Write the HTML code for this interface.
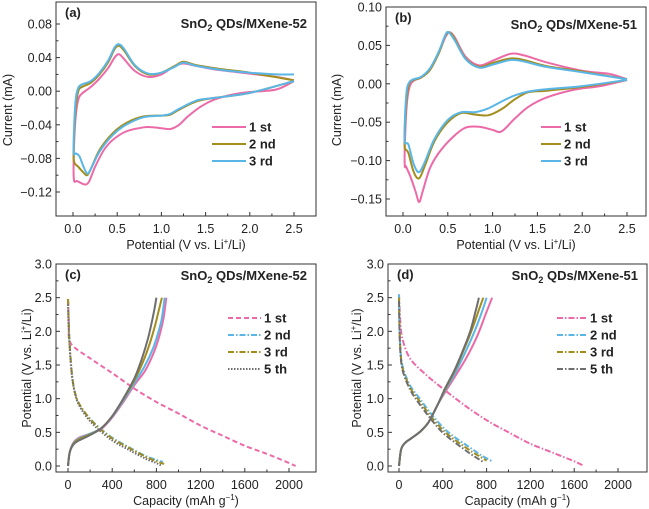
<!DOCTYPE html>
<html><head><meta charset="utf-8">
<style>
html,body{margin:0;padding:0;background:#fff;}
svg{display:block;font-family:"Liberation Sans",Arial,sans-serif;}
.tk{font-size:12.5px;fill:#222;}
.ti{font-size:12.5px;fill:#222;}
.lg{font-size:13px;font-weight:bold;fill:#222;}
</style></head>
<body>
<svg id="fig" width="649" height="509" viewBox="0 0 649 509" xmlns="http://www.w3.org/2000/svg"></svg>
<script>
// ---------- data ----------
const cvA_1st = [[2.5,0.012],[2.3,0.002],[2.0,-0.001],[1.8,-0.004],[1.6,-0.01],[1.45,-0.018],[1.3,-0.03],[1.2,-0.04],[1.1,-0.045],[1.0,-0.044],[0.9,-0.043],[0.8,-0.043],[0.6,-0.048],[0.45,-0.058],[0.35,-0.07],[0.25,-0.09],[0.18,-0.108],[0.13,-0.111],[0.05,-0.107],[0.01,-0.105],[0.01,-0.07],[0.03,-0.03],[0.06,-0.01],[0.1,-0.003],[0.2,0.005],[0.3,0.015],[0.4,0.028],[0.47,0.04],[0.52,0.044],[0.58,0.038],[0.7,0.024],[0.85,0.017],[1.0,0.02],[1.15,0.03],[1.25,0.033],[1.4,0.03],[1.6,0.026],[2.0,0.021],[2.3,0.017],[2.5,0.013]];
const cvA_2nd = [[2.5,0.012],[2.0,-0.002],[1.6,-0.008],[1.4,-0.012],[1.2,-0.022],[1.1,-0.028],[1.0,-0.029],[0.8,-0.03],[0.6,-0.038],[0.45,-0.05],[0.3,-0.07],[0.2,-0.093],[0.16,-0.1],[0.12,-0.097],[0.06,-0.09],[0.01,-0.083],[0.01,-0.06],[0.03,-0.02],[0.06,0.0],[0.1,0.005],[0.2,0.01],[0.3,0.02],[0.4,0.035],[0.47,0.05],[0.52,0.054],[0.58,0.048],[0.7,0.03],[0.85,0.02],[1.0,0.022],[1.15,0.03],[1.25,0.035],[1.4,0.031],[1.7,0.026],[2.0,0.022],[2.5,0.013]];
const cvA_3rd = [[2.5,0.012],[2.0,-0.002],[1.6,-0.008],[1.4,-0.011],[1.2,-0.021],[1.1,-0.027],[1.0,-0.029],[0.8,-0.031],[0.6,-0.04],[0.45,-0.052],[0.3,-0.072],[0.2,-0.093],[0.16,-0.098],[0.12,-0.09],[0.07,-0.077],[0.03,-0.074],[0.01,-0.074],[0.01,-0.05],[0.03,-0.01],[0.06,0.004],[0.1,0.008],[0.2,0.012],[0.3,0.022],[0.4,0.037],[0.47,0.052],[0.52,0.056],[0.58,0.05],[0.7,0.031],[0.85,0.021],[1.0,0.022],[1.15,0.029],[1.25,0.034],[1.4,0.03],[1.7,0.025],[2.0,0.022],[2.3,0.02],[2.5,0.02]];
const cvB_1st = [[2.5,0.005],[2.2,-0.003],[1.9,-0.008],[1.6,-0.018],[1.4,-0.03],[1.25,-0.045],[1.1,-0.062],[1.0,-0.06],[0.85,-0.056],[0.7,-0.057],[0.55,-0.07],[0.4,-0.09],[0.3,-0.11],[0.22,-0.14],[0.18,-0.154],[0.14,-0.14],[0.08,-0.12],[0.03,-0.107],[0.02,-0.107],[0.02,-0.08],[0.04,-0.03],[0.07,-0.005],[0.12,0.004],[0.2,0.008],[0.3,0.018],[0.4,0.04],[0.47,0.06],[0.52,0.067],[0.58,0.06],[0.7,0.035],[0.85,0.024],[1.0,0.03],[1.2,0.039],[1.35,0.037],[1.6,0.028],[2.0,0.017],[2.3,0.013],[2.5,0.006]];
const cvB_2nd = [[2.5,0.005],[2.0,-0.004],[1.6,-0.009],[1.4,-0.011],[1.25,-0.02],[1.1,-0.033],[0.95,-0.041],[0.8,-0.04],[0.65,-0.038],[0.5,-0.05],[0.35,-0.075],[0.25,-0.105],[0.18,-0.123],[0.12,-0.115],[0.06,-0.09],[0.02,-0.083],[0.02,-0.06],[0.04,-0.02],[0.07,0.0],[0.12,0.005],[0.2,0.008],[0.3,0.018],[0.4,0.04],[0.47,0.062],[0.52,0.067],[0.58,0.058],[0.7,0.033],[0.85,0.022],[1.0,0.027],[1.2,0.033],[1.35,0.031],[1.6,0.023],[2.0,0.016],[2.5,0.006]];
const cvB_3rd = [[2.5,0.005],[2.0,-0.003],[1.6,-0.007],[1.4,-0.01],[1.25,-0.015],[1.1,-0.023],[0.95,-0.032],[0.8,-0.037],[0.65,-0.037],[0.5,-0.047],[0.35,-0.072],[0.25,-0.1],[0.18,-0.115],[0.12,-0.105],[0.06,-0.079],[0.02,-0.076],[0.02,-0.05],[0.04,-0.01],[0.07,0.002],[0.12,0.006],[0.2,0.009],[0.3,0.02],[0.4,0.042],[0.47,0.063],[0.51,0.067],[0.58,0.056],[0.7,0.032],[0.85,0.021],[1.0,0.025],[1.2,0.031],[1.35,0.029],[1.6,0.022],[2.0,0.015],[2.5,0.006]];

const gcC_dis1 = [[2,2.45],[8,2.1],[25,1.82],[200,1.6],[400,1.38],[600,1.15],[800,0.95],[1000,0.78],[1200,0.6],[1400,0.45],[1600,0.3],[1800,0.18],[1950,0.08],[2060,0.0]];
const gcC_dis2 = [[0,2.48],[5,2.2],[15,1.8],[40,1.3],[80,1.0],[150,0.8],[250,0.62],[400,0.42],[550,0.28],[700,0.15],[800,0.09],[860,0.06]];
const gcC_dis3 = [[0,2.48],[5,2.2],[15,1.8],[40,1.3],[80,1.0],[150,0.8],[250,0.61],[400,0.41],[550,0.27],[700,0.14],[800,0.07],[870,0.03]];
const gcC_dis5 = [[0,2.4],[5,2.1],[15,1.75],[40,1.28],[80,0.98],[150,0.77],[250,0.58],[400,0.38],[550,0.24],[700,0.11],[790,0.05],[840,0.01]];
const gcC_ch1 = [[0,0],[15,0.2],[50,0.35],[100,0.42],[200,0.48],[300,0.55],[400,0.72],[500,0.95],[600,1.2],[700,1.42],[780,1.7],[830,1.95],[865,2.2],[890,2.5]];
const gcC_ch2 = [[0,0],[15,0.2],[50,0.34],[100,0.41],[200,0.48],[300,0.56],[400,0.73],[500,0.97],[600,1.23],[690,1.47],[770,1.75],[820,2.0],[850,2.2],[875,2.5]];
const gcC_ch3 = [[0,0],[15,0.2],[50,0.33],[100,0.4],[200,0.47],[300,0.56],[400,0.74],[500,0.99],[600,1.27],[680,1.55],[740,1.82],[790,2.1],[820,2.3],[850,2.5]];
const gcC_ch5 = [[0,0],[15,0.2],[50,0.32],[100,0.38],[200,0.46],[300,0.56],[400,0.74],[500,1.0],[600,1.3],[670,1.6],[725,1.9],[760,2.15],[785,2.35],[800,2.5]];

const gcD_dis1 = [[0,2.55],[10,2.2],[30,1.9],[100,1.6],[250,1.35],[400,1.15],[600,0.9],[800,0.68],[1000,0.5],[1200,0.33],[1400,0.2],[1600,0.07],[1690,0.0]];
const gcD_dis2 = [[0,2.55],[8,1.9],[30,1.5],[100,1.2],[190,1.0],[300,0.76],[450,0.5],[670,0.25],[760,0.15],[850,0.07]];
const gcD_dis3 = [[0,2.5],[8,1.87],[30,1.47],[100,1.17],[180,0.98],[290,0.74],[430,0.49],[640,0.24],[730,0.15],[800,0.08]];
const gcD_dis5 = [[0,2.45],[8,1.84],[30,1.44],[100,1.14],[170,0.96],[280,0.72],[410,0.48],[610,0.23],[700,0.13],[770,0.06]];
const gcD_ch1 = [[0,0],[20,0.25],[60,0.35],[120,0.42],[200,0.52],[270,0.65],[350,0.9],[430,1.12],[520,1.35],[620,1.62],[720,1.95],[790,2.25],[850,2.5]];
const gcD_ch2 = [[0,0],[20,0.25],[60,0.35],[120,0.42],[200,0.52],[270,0.65],[350,0.9],[425,1.13],[510,1.37],[600,1.67],[690,2.0],[760,2.3],[800,2.5]];
const gcD_ch3 = [[0,0],[20,0.25],[60,0.35],[120,0.42],[200,0.52],[270,0.65],[350,0.9],[422,1.14],[505,1.4],[585,1.7],[665,2.02],[730,2.32],[770,2.5]];
const gcD_ch5 = [[0,0],[20,0.25],[60,0.35],[120,0.42],[200,0.52],[270,0.65],[350,0.9],[420,1.15],[500,1.4],[580,1.7],[650,2.0],[700,2.3],[730,2.5]];

const xTicksCV = [0,0.5,1.0,1.5,2.0,2.5];
const yTicksA = [0.08,0.04,0.00,-0.04,-0.08,-0.12];
const yTicksB = [0.10,0.05,0.00,-0.05,-0.10,-0.15];
const xTicksGC = [0,400,800,1200,1600,2000];
const yTicksGC = [0,0.5,1.0,1.5,2.0,2.5,3.0];
const legendCV = ["1 st","2 nd","3 rd"];
const legendGC = ["1 st","2 nd","3 rd","5 th"];

// ---------- drawing ----------
const NS = "http://www.w3.org/2000/svg";
const svg = document.getElementById('fig');
const PINK="#ec6aa8", OLIVE="#a38d1d", BLUE="#5ab6e6", GRAY="#6e6e6e";
function mk(tag, attrs, parent){ const e=document.createElementNS(NS,tag); for(const k in attrs) e.setAttribute(k,attrs[k]); (parent||svg).appendChild(e); return e; }
function fmt(v,d){ const s=Math.abs(v).toFixed(d); return (v<0?"\u2212":"")+s; }
function smooth(pts){
  let d="M"+pts[0][0].toFixed(1)+","+pts[0][1].toFixed(1);
  for(let i=0;i<pts.length-1;i++){
    const p0=pts[Math.max(0,i-1)],p1=pts[i],p2=pts[i+1],p3=pts[Math.min(pts.length-1,i+2)];
    const t=0.16;
    const c1=[p1[0]+(p2[0]-p0[0])*t,p1[1]+(p2[1]-p0[1])*t];
    const c2=[p2[0]-(p3[0]-p1[0])*t,p2[1]-(p3[1]-p1[1])*t];
    d+=" C"+c1[0].toFixed(1)+","+c1[1].toFixed(1)+" "+c2[0].toFixed(1)+","+c2[1].toFixed(1)+" "+p2[0].toFixed(1)+","+p2[1].toFixed(1);
  }
  return d;
}
function panel(cfg){
  const g=mk('g',{});
  
  
  const sx=v=>cfg.x0px+(v-cfg.xv0)*(cfg.x1px-cfg.x0px)/(cfg.xv1-cfg.xv0);
  const sy=v=>cfg.y0px+(v-cfg.yv0)*(cfg.y1px-cfg.y0px)/(cfg.yv1-cfg.yv0);
  const clipId='clip-'+cfg.name;
  const cp=mk('clipPath',{id:clipId},g); mk('rect',{x:cfg.L,y:cfg.T,width:cfg.R-cfg.L,height:cfg.B-cfg.T},cp);
  const sg=mk('g',{'clip-path':'url(#'+clipId+')'},g);
  cfg.series.forEach(s=>{
    const p=mk('path',{d:smooth(s.data.map(q=>[sx(q[0]),sy(q[1])])),fill:'none',stroke:s.color,'stroke-width':2,'stroke-linejoin':'round','stroke-dasharray':s.dash||'none'},sg);
    
    
  });
  const fr=mk('rect',{x:cfg.L,y:cfg.T,width:cfg.R-cfg.L,height:cfg.B-cfg.T,fill:'none',stroke:'#333','stroke-width':1},g);
  
  
  const xt=cfg.xticks;
  xt.forEach((v,i)=>{
    const X=sx(v);
    mk('line',{x1:X,x2:X,y1:cfg.B,y2:cfg.B-4,stroke:'#333'},g);
    if(i<xt.length-1){ const Xm=sx((v+xt[i+1])/2); mk('line',{x1:Xm,x2:Xm,y1:cfg.B,y2:cfg.B-2.5,stroke:'#333'},g); }
    const t=mk('text',{x:X,y:cfg.B+17,'text-anchor':'middle',class:'tk'},g); t.textContent=cfg.xfmt(v);
    
    
  });
  const yt=cfg.yticks;
  yt.forEach((v,i)=>{
    const Y=sy(v);
    mk('line',{x1:cfg.L,x2:cfg.L+4,y1:Y,y2:Y,stroke:'#333'},g);
    if(i<yt.length-1){ const Ym=sy((v+yt[i+1])/2); mk('line',{x1:cfg.L,x2:cfg.L+2.5,y1:Ym,y2:Ym,stroke:'#333'},g); }
    const t=mk('text',{x:cfg.L-4,y:Y+4.5,'text-anchor':'end',class:'tk'},g); t.textContent=cfg.yfmt(v);
    
    
  });
  const xa=mk('text',{x:(cfg.L+cfg.R)/2,y:cfg.B+33,'text-anchor':'middle',class:'ti'},g); xa.innerHTML=cfg.xtitle;
  
  
  const ya=mk('text',{x:0,y:0,'text-anchor':'middle',class:'ti',transform:'translate('+cfg.ytx+','+cfg.yty+') rotate(-90)'},g); ya.innerHTML=cfg.ytitle;
  
  
  const pl=mk('text',{x:cfg.L+9,y:cfg.T+15,class:'lg'},g); pl.textContent=cfg.tag;
  
  
  const pt=mk('text',{x:cfg.R-9,y:cfg.T+cfg.titleDy,'text-anchor':'end',class:'lg'},g);
  pt.innerHTML='SnO<tspan font-size="9" dy="3">2</tspan><tspan dy="-3"> QDs/MXene-'+cfg.num+'</tspan>';
  
  
  cfg.legend.forEach((lab,i)=>{
    const s=cfg.series[cfg.legendIdx[i]];
    const Y=cfg.lgY+i*cfg.lgStep;
    const ln=mk('line',{x1:cfg.lgX,x2:cfg.lgX+cfg.lgW,y1:Y,y2:Y,stroke:s.color,'stroke-width':2,'stroke-dasharray':s.dash||'none'},g);
    
    
    const t=mk('text',{x:cfg.lgX+cfg.lgW+3,y:Y+4.5,class:'lg'},g); t.textContent=lab;
    
    
  });
}
const potT='Potential (V vs. Li<tspan font-size="8" dy="-5">+</tspan><tspan dy="5">/Li)</tspan>';
const capT='Capacity (mAh g<tspan font-size="8" dy="-5">\u22121</tspan><tspan dy="5">)</tspan>';
panel({name:'panel-a',tag:'(a)',num:'52',L:56,R:316,T:2,B:216,x0px:73,x1px:294,xv0:0,xv1:2.5,y0px:24,y1px:192,yv0:0.08,yv1:-0.12,
  xticks:xTicksCV,yticks:yTicksA,xfmt:v=>v.toFixed(1),yfmt:v=>fmt(v,2),xtitle:potT,ytitle:'Current (mA)',ytx:12,yty:110,titleDy:26,
  series:[{nm:'cv-1st',data:cvA_1st,color:PINK},{nm:'cv-2nd',data:cvA_2nd,color:OLIVE},{nm:'cv-3rd',data:cvA_3rd,color:BLUE}],
  legend:legendCV,legendIdx:[0,1,2],lgX:212,lgW:34,lgY:127,lgStep:17});
panel({name:'panel-b',tag:'(b)',num:'51',L:386,R:646,T:7,B:216,x0px:403,x1px:627,xv0:0,xv1:2.5,y0px:7,y1px:199,yv0:0.10,yv1:-0.15,
  xticks:xTicksCV,yticks:yTicksB,xfmt:v=>v.toFixed(1),yfmt:v=>fmt(v,2),xtitle:potT,ytitle:'Current (mA)',ytx:341,yty:110,titleDy:22,
  series:[{nm:'cv-1st',data:cvB_1st,color:PINK},{nm:'cv-2nd',data:cvB_2nd,color:OLIVE},{nm:'cv-3rd',data:cvB_3rd,color:BLUE}],
  legend:legendCV,legendIdx:[0,1,2],lgX:541,lgW:20,lgY:127,lgStep:17});
panel({name:'panel-c',tag:'(c)',num:'52',L:56,R:316,T:264,B:472,x0px:68,x1px:289,xv0:0,xv1:2000,y0px:466,y1px:264,yv0:0,yv1:3,
  xticks:xTicksGC,yticks:yTicksGC,xfmt:v=>String(v),yfmt:v=>v.toFixed(1),xtitle:capT,ytitle:potT,ytx:31,yty:368,titleDy:16,
  series:[{nm:'discharge-1st',data:gcC_dis1,color:PINK,dash:'5,3'},{nm:'discharge-2nd',data:gcC_dis2,color:BLUE,dash:'6,2,1.5,2'},{nm:'discharge-3rd',data:gcC_dis3,color:OLIVE,dash:'6,2,1.5,2'},{nm:'discharge-5th',data:gcC_dis5,color:GRAY,dash:'1.5,1.5'},
    {nm:'charge-1st',data:gcC_ch1,color:PINK},{nm:'charge-2nd',data:gcC_ch2,color:BLUE},{nm:'charge-3rd',data:gcC_ch3,color:OLIVE},{nm:'charge-5th',data:gcC_ch5,color:GRAY}],
  legend:legendGC,legendIdx:[0,1,2,3],lgX:228,lgW:33,lgY:318,lgStep:17});
panel({name:'panel-d',tag:'(d)',num:'51',L:388,R:647,T:264,B:472,x0px:399,x1px:618,xv0:0,xv1:2000,y0px:466,y1px:264,yv0:0,yv1:3,
  xticks:xTicksGC,yticks:yTicksGC,xfmt:v=>String(v),yfmt:v=>v.toFixed(1),xtitle:capT,ytitle:potT,ytx:361,yty:368,titleDy:16,
  series:[{nm:'discharge-1st',data:gcD_dis1,color:PINK,dash:'6,2,1.5,2'},{nm:'discharge-2nd',data:gcD_dis2,color:BLUE,dash:'6,2,1.5,2'},{nm:'discharge-3rd',data:gcD_dis3,color:OLIVE,dash:'6,2,1.5,2'},{nm:'discharge-5th',data:gcD_dis5,color:GRAY,dash:'6,2,1.5,2'},
    {nm:'charge-1st',data:gcD_ch1,color:PINK},{nm:'charge-2nd',data:gcD_ch2,color:BLUE},{nm:'charge-3rd',data:gcD_ch3,color:OLIVE},{nm:'charge-5th',data:gcD_ch5,color:GRAY}],
  legend:legendGC,legendIdx:[0,1,2,3],lgX:557,lgW:30,lgY:318,lgStep:17});
</script>
</body></html>
